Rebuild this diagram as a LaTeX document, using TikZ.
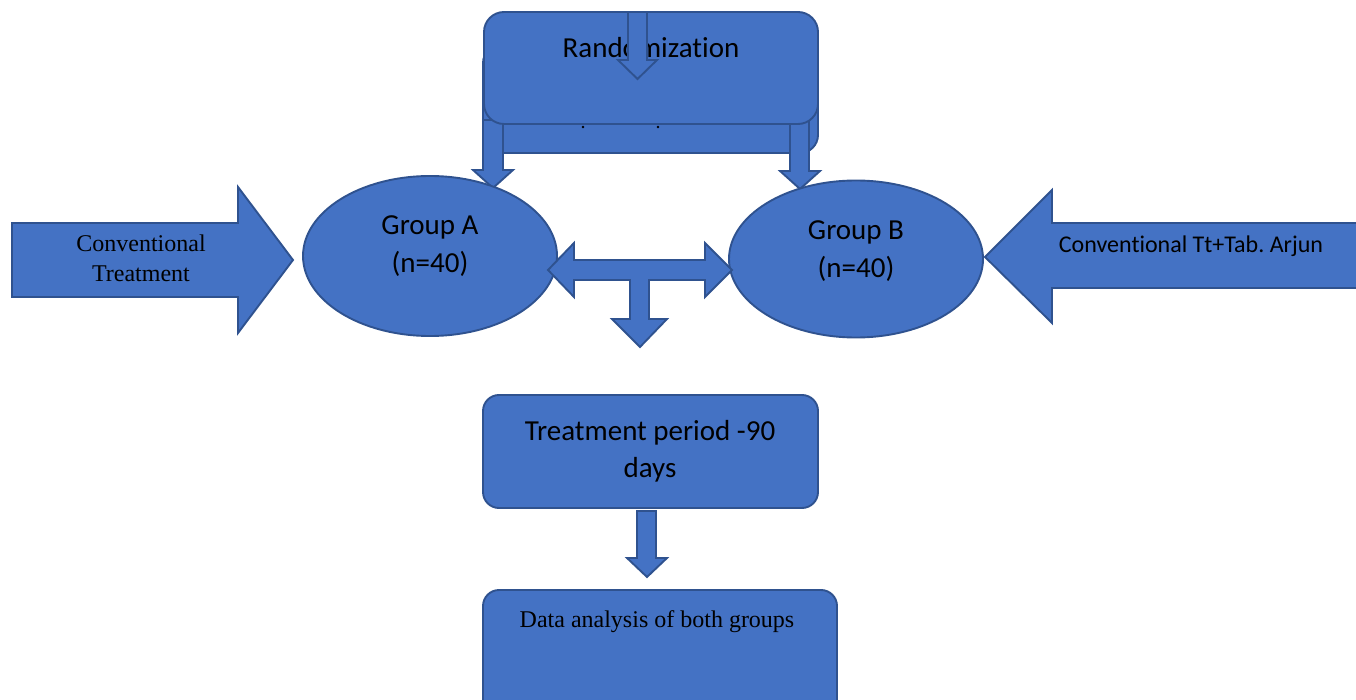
\documentclass[tikz,border=0pt]{standalone}
\usepackage{fontspec}
\setmainfont{Liberation Serif}
\newfontfamily\calfont[Ligatures=NoCommon]{Carlito}
\usetikzlibrary{shapes.geometric}
\definecolor{bfill}{HTML}{4472C4}
\definecolor{bedge}{HTML}{2F528F}
\frenchspacing
\begin{document}
\begin{tikzpicture}[x=1pt,y=-1pt,
  blk/.style={fill=bfill,draw=bedge,line width=1.9pt,line join=miter},
  boxnode/.style={blk,rectangle,inner sep=0pt},
  ellnode/.style={blk,ellipse,inner sep=0pt,minimum width=254pt,minimum height=160pt},
  cal/.style={font=\calfont\fontsize{29}{35}\selectfont,anchor=base,inner sep=0pt},
  calsm/.style={font=\calfont\fontsize{24}{29}\selectfont,anchor=base,inner sep=0pt},
  tms/.style={font=\fontsize{24}{29}\selectfont,anchor=base,inner sep=0pt}]
\useasboundingbox (0,0) rectangle (1356,700);
% back box of the top group
\draw[blk,rounded corners=18pt] (483,45) rectangle (818,153);
% side down arrows from randomization
\draw[blk] (483,120) -- (503,120) -- (503,170) -- (513,170) -- (493,188) -- (473,170) -- (483,170) -- cycle;
\draw[blk] (790,120) -- (809,120) -- (809,171) -- (820,171) -- (800,189) -- (780,171) -- (790,171) -- cycle;
% front box
\node[boxnode,rounded corners=20pt,minimum width=334pt,minimum height=112pt] (rand) at (651,68) {};
\node[cal] (randt) at (651,58) {Randomization};
% small arrow on top
\draw[blk] (628,12) -- (647,12) -- (647,60) -- (657,60) -- (637.5,79) -- (618,60) -- (628,60) -- cycle;
\fill[black] (583,127) circle (1.3pt);
\fill[black] (658,127) circle (1.3pt);
% groups
\node[ellnode] (ga) at (430,256) {};
\node[ellnode,minimum height=157pt] (gb) at (856,259) {};
\node[cal] (gat1) at (430,235) {Group A};
\node[cal] (gat2) at (430,273) {(n=40)};
\node[cal] (gbt1) at (856,240) {Group B};
\node[cal] (gbt2) at (856,278) {(n=40)};
% left big arrow
\draw[blk] (12,223) -- (238,223) -- (238,187) -- (293,260) -- (238,333) -- (238,297) -- (12,297) -- cycle;
\node[tms] (lt1) at (141,252) {Conventional};
\node[tms] (lt2) at (141,282) {Treatment};
% right big arrow
\draw[blk] (1362,223) -- (1052,223) -- (1052,190) -- (985,257) -- (1052,323) -- (1052,288) -- (1362,288);
\node[calsm] (rt) at (1191,253) {Conventional Tt+Tab. Arjun};
% central double arrow with down arm
\draw[blk] (548,270) -- (574,243) -- (574,260) -- (705,260) -- (705,243) -- (732,270) -- (705,297) -- (705,280)
  -- (649,280) -- (649,319) -- (667,319) -- (640,347) -- (612,319) -- (630,319) -- (630,280)
  -- (574,280) -- (574,297) -- cycle;
% treatment period
\node[boxnode,rounded corners=16pt,minimum width=335pt,minimum height=113pt] (tp) at (650.5,451.5) {};
\node[cal] (tpt1) at (650,440) {Treatment period -90};
\node[cal] (tpt2) at (650,477) {days};
\draw[blk] (637,511) -- (656,511) -- (656,558) -- (667,558) -- (647,577) -- (627,558) -- (637,558) -- cycle;
% data analysis
\draw[blk,rounded corners=16pt] (483,720) -- (483,590) -- (837,590) -- (837,720);
\coordinate (da) at (660,650);
\node[tms] (dat) at (657,627) {Data analysis of both groups};
\end{tikzpicture}
\end{document}
